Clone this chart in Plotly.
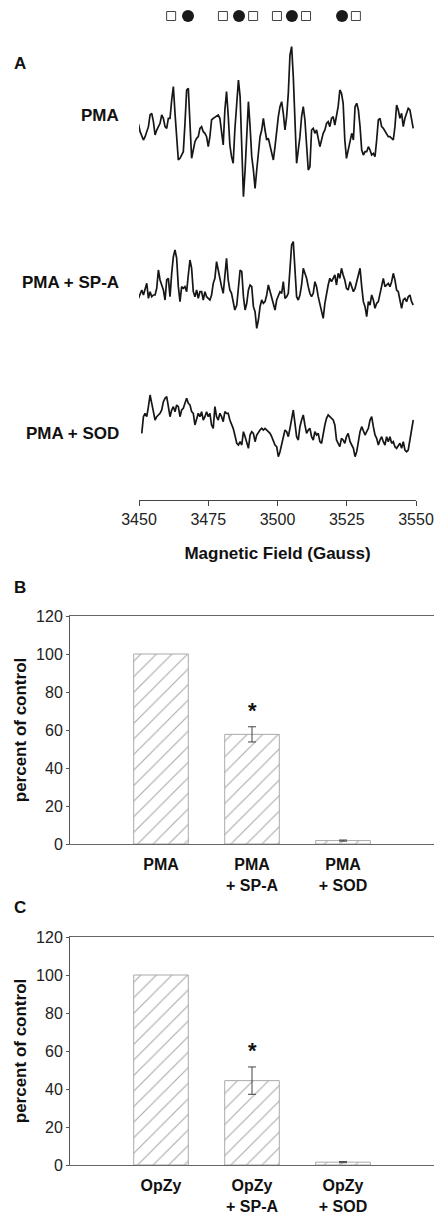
import plotly.graph_objects as go

# ---------------- Panel A: EPR spectra (field in Gauss, intensity in a.u.) ----------------
field_gauss = [
    3449.2, 3449.8, 3450.4, 3451.0, 3451.6, 3452.2, 3452.8, 3453.4, 3454.0, 3454.6,
    3455.2, 3455.8, 3456.4, 3457.0, 3457.6, 3458.2, 3458.8, 3459.4, 3460.0, 3460.6,
    3461.2, 3461.8, 3462.4, 3463.0, 3463.6, 3464.2, 3464.8, 3465.4, 3466.0, 3466.6,
    3467.2, 3467.8, 3468.4, 3469.0, 3469.6, 3470.2, 3470.8, 3471.4, 3472.0, 3472.6,
    3473.2, 3473.8, 3474.4, 3475.0, 3475.6, 3476.2, 3476.8, 3477.4, 3478.0, 3478.6,
    3479.2, 3479.8, 3480.4, 3481.0, 3481.6, 3482.2, 3482.8, 3483.4, 3484.0, 3484.6,
    3485.3, 3485.9, 3486.5, 3487.1, 3487.7, 3488.3, 3488.9, 3489.5, 3490.1, 3490.7,
    3491.3, 3491.9, 3492.5, 3493.1, 3493.7, 3494.3, 3494.9, 3495.5, 3496.1, 3496.7,
    3497.3, 3497.9, 3498.5, 3499.1, 3499.7, 3500.3, 3500.9, 3501.5, 3502.1, 3502.7,
    3503.3, 3503.9, 3504.5, 3505.1, 3505.7, 3506.3, 3506.9, 3507.5, 3508.1, 3508.7,
    3509.3, 3509.9, 3510.5, 3511.1, 3511.7, 3512.3, 3512.9, 3513.5, 3514.1, 3514.7,
    3515.3, 3515.9, 3516.5, 3517.1, 3517.7, 3518.3, 3518.9, 3519.5, 3520.1, 3520.7,
    3521.3, 3521.9, 3522.5, 3523.1, 3523.7, 3524.3, 3524.9, 3525.5, 3526.2, 3526.8,
    3527.4, 3528.0, 3528.6, 3529.2, 3529.8, 3530.4, 3531.0, 3531.6, 3532.2, 3532.8,
    3533.4, 3534.0, 3534.6, 3535.2, 3535.8, 3536.4, 3537.0, 3537.6, 3538.2, 3538.8,
    3539.4, 3540.0, 3540.6, 3541.2, 3541.8, 3542.4, 3543.0, 3543.6, 3544.2, 3544.8,
    3545.4, 3546.0, 3546.6, 3547.2, 3547.8, 3548.4, 3549.0]

pma_signal = [
    5, 18, -5, -20, -30, -20, -5, 10, 45, 50,
    25, -15, 0, 10, 20, 45, 35, 10, 5, 35,
    35, 90, 130, 50, -30, -90, -85, -75, -65, 20,
    120, 125, 20, -85, -60, -35, -25, -20, 5, 10,
    -5, -10, -20, -50, -20, 30, 35, 38, 42, 45,
    35, 0, -45, 60, 115, 45, -45, -80, -100, 0,
    70, 150, 100, -50, -200, -120, 10, 85, 10, -80,
    -120, -175, -120, -60, -20, 0, 35, 0, -30, -25,
    -45, -70, -90, -50, 0, 40, 70, 85, 50, 0,
    40, 110, 225, 250, 160, 0, -100, -60, -20, 40,
    70, 30, -40, -120, -110, 0, 5, -10, 0, -30,
    -50, -30, -10, 0, 20, 25, 10, 35, 40, 15,
    40, 70, 120, 110, 80, -30, -85, -60, -30, -10,
    -30, 70, 80, 60, 10, -60, -75, -65, -65, -50,
    -60, -75, -70, -80, -30, 30, 35, 10, 5, -5,
    -10, -20, -20, -25, -30, 10, 75, 60, 35, 50,
    10, 35, 50, 65, 60, 30, 5]

pma_spa_signal = [
    None, -5, 10, 20, 5, 25, 40, -5, 15, 0,
    5, 5, 25, 80, 50, 35, 20, -10, 50, 55,
    0, 70, 120, 140, 115, 30, -15, 30, 25, 30,
    15, 65, 110, 85, 15, 0, 20, -5, 15, 15,
    -10, 15, 0, -5, -10, 5, 40, 55, 105, 80,
    50, 30, 10, 70, 115, 50, 20, 10, -20, -40,
    -25, 30, 80, 75, 0, -40, -20, 20, 35, 30,
    -30, -45, -95, -70, -30, -10, -20, -15, 5, 35,
    15, 0, -20, -40, -10, 5, 15, 10, 45, -5,
    0, 10, 90, 155, 165, 90, 0, -10, 5, 35,
    85, 70, 55, 30, 10, 0, 10, 45, 30, 0,
    -25, -40, -65, -20, 10, 35, 55, 45, 55, 65,
    35, 70, 55, 85, 65, 50, 25, 20, 45, 30,
    15, 25, 45, 70, 85, 30, -15, -30, -60, -15,
    -25, 5, -10, -35, -20, -15, 10, 35, 55, 30,
    35, 40, 30, 45, 70, 50, 20, 15, -10, -35,
    -10, -5, -15, 0, 5, -15, -25]

pma_sod_signal = [
    None, None, None, -10, 40, 50, 40, 70, 105, 80,
    55, 30, 40, 45, 50, 60, 85, 95, 100, 70,
    40, 60, 70, 55, 75, 70, 40, 60, 65, 80,
    95, 80, 75, 55, 50, 15, 30, 50, 40, 55,
    30, 40, 55, 40, 50, 15, 5, 70, 40, 30,
    50, 40, 25, 55, 50, 50, 30, 20, 5, -15,
    -40, -45, -35, -45, -5, -20, -35, -55, -15, -5,
    -10, -35, -15, -5, 0, 5, 0, 5, 0, -5,
    -10, -20, -35, -45, -50, -80, -65, -45, -20, 0,
    -5, -20, 5, 30, 60, 20, -20, -30, 10, 30,
    45, 15, -10, 0, 5, -20, -30, -5, -15, -10,
    -35, -40, -10, 15, 35, 45, 40, 35, 30, 15,
    -30, -40, -50, -25, -30, -40, -20, -10, -35, -45,
    -55, -80, -65, -35, -5, 10, 0, -15, -5, 5,
    30, 40, 10, -15, -25, -45, -30, -20, -35, -45,
    -20, -35, -20, -40, -35, -50, -55, -45, -40, -55,
    -35, -60, -65, -60, -30, -10, 30]

sample_labels = ["PMA", "PMA + SP-A", "PMA + SOD"]

# hyperfine line markers above the spectra (Gauss)
hf_open_squares = [3461.6, 3480.3, 3491.2, 3499.8, 3510.3, 3528.3]
hf_filled_circles = [3467.7, 3486.1, 3505.2, 3523.3]

field_ticks = [3450, 3475, 3500, 3525, 3550]

# ---------------- Panels B and C: bar charts ----------------
pma_cats = ["PMA", "PMA<br>+ SP-A", "PMA<br>+ SOD"]
pma_vals = [100, 57.7, 1.8]
pma_errs = [0, 4.0, 0.3]

opzy_cats = ["OpZy", "OpZy<br>+ SP-A", "OpZy<br>+ SOD"]
opzy_vals = [100, 44.4, 1.5]
opzy_errs = [0, 7.2, 0.3]

pct_ticks = [0, 20, 40, 60, 80, 100, 120]

W, H = 434, 1216
FONT = "Liberation Sans, Arial, Helvetica, sans-serif"


def py(px):
    return 1 - px / H


def px_x(px):
    return px / W


fig = go.Figure()

trace_color = "#161616"
for sig, ya in [(pma_signal, "y"), (pma_spa_signal, "y2"), (pma_sod_signal, "y3")]:
    fig.add_trace(go.Scatter(x=field_gauss, y=sig, mode="lines", xaxis="x", yaxis=ya,
                             line=dict(color=trace_color, width=1.7), connectgaps=False,
                             hoverinfo="skip"))

fig.add_trace(go.Scatter(x=hf_open_squares, y=[0] * len(hf_open_squares), mode="markers",
                         xaxis="x", yaxis="y4",
                         marker=dict(symbol="square-open", size=9, color="#444",
                                     line=dict(width=1, color="#444"))))
fig.add_trace(go.Scatter(x=hf_filled_circles, y=[0] * len(hf_filled_circles), mode="markers",
                         xaxis="x", yaxis="y4",
                         marker=dict(symbol="circle", size=12, color="#1a1a1a")))

bar_pattern = dict(shape="/", fgcolor="#555", bgcolor="white", size=11, solidity=0.1)
for cats, vals, errs, xa, ya in [(pma_cats, pma_vals, pma_errs, "x2", "y5"),
                                 (opzy_cats, opzy_vals, opzy_errs, "x3", "y6")]:
    fig.add_trace(go.Bar(x=cats, y=vals, xaxis=xa, yaxis=ya, width=0.6,
                         marker=dict(color="white", pattern=bar_pattern,
                                     line=dict(color="#aaa", width=1)),
                         hoverinfo="skip"))
    # error bars only where an SEM is reported (non-zero)
    ex = [c for c, e in zip(cats, errs) if e]
    ey = [v for v, e in zip(vals, errs) if e]
    ee = [e for e in errs if e]
    fig.add_trace(go.Scatter(x=ex, y=ey, xaxis=xa, yaxis=ya, mode="markers",
                             marker=dict(size=1, color="rgba(0,0,0,0)"),
                             error_y=dict(type="data", array=ee, visible=True,
                                          color="#444", thickness=1, width=4),
                             hoverinfo="skip"))

tickfont = dict(family=FONT, size=16, color="#222")
boldfont = dict(family=FONT, size=17, color="#111", weight="bold")
catfont = dict(family=FONT, size=16, color="#111", weight="bold")

layout = dict(
    width=W, height=H, margin=dict(l=0, r=0, t=0, b=0, autoexpand=False),
    paper_bgcolor="white", plot_bgcolor="white", showlegend=False,
    font=dict(family=FONT, color="#222"),
    xaxis=dict(domain=[px_x(139), px_x(416)], range=[3450, 3550], anchor="free",
               position=py(500), tickvals=field_ticks, showline=True, linecolor="#444",
               linewidth=1, ticks="outside", ticklen=5, tickcolor="#444", showgrid=False,
               zeroline=False, tickfont=tickfont, automargin=False,
               title=dict(text="Magnetic Field (Gauss)", font=boldfont, standoff=19)),
    yaxis=dict(domain=[py(210), py(30)], range=[-240, 300], visible=False, anchor="x"),
    yaxis2=dict(domain=[py(342), py(222)], range=[-136, 224], visible=False, anchor="x"),
    yaxis3=dict(domain=[py(480), py(372)], range=[-150, 174], visible=False, anchor="x"),
    yaxis4=dict(domain=[py(26), py(6)], range=[-1, 1], visible=False, anchor="x"),
)

for xa, ya, cats, top, bot in [("xaxis2", "yaxis5", pma_cats, 616, 844),
                               ("xaxis3", "yaxis6", opzy_cats, 937, 1165)]:
    layout[xa] = dict(domain=[px_x(70), 1.0], type="category", categoryarray=cats,
                      range=[-1, 3], anchor=ya.replace("axis", ""), showline=True,
                      linecolor="#666", linewidth=1, mirror=True, ticks="",
                      ticklabelstandoff=6, showgrid=False, zeroline=False,
                      tickfont=catfont, automargin=False)
    layout[ya] = dict(domain=[py(bot), py(top)], range=[0, 120], tickvals=pct_ticks,
                      anchor=xa.replace("axis", ""), showline=True, linecolor="#555",
                      linewidth=1, ticks="outside", ticklen=3, tickcolor="#555",
                      showgrid=False, zeroline=False, tickfont=tickfont, automargin=False,
                      title=dict(text="percent of control", font=boldfont, standoff=5))

fig.update_layout(**layout)

annots = []
for lab, ypx in [("A", 63), ("B", 587), ("C", 907)]:
    annots.append(dict(text=lab, xref="paper", yref="paper", x=px_x(12), y=py(ypx),
                       xanchor="left", yanchor="middle", showarrow=False,
                       font=dict(family=FONT, size=17, color="#111", weight="bold")))
for lab, ypx in zip(sample_labels, [115, 282, 434]):
    annots.append(dict(text=lab, xref="paper", yref="paper", x=px_x(121), y=py(ypx),
                       xanchor="right", yanchor="middle", showarrow=False, font=boldfont))
for cats, vals, errs, xa, ya in [(pma_cats, pma_vals, pma_errs, "x2", "y5"),
                                 (opzy_cats, opzy_vals, opzy_errs, "x3", "y6")]:
    annots.append(dict(text="*", xref=xa, yref=ya, x=cats[1], y=vals[1] + errs[1],
                       xanchor="center", yanchor="bottom", yshift=2, showarrow=False,
                       font=dict(family=FONT, size=22, color="#111", weight="bold")))
fig.update_layout(annotations=annots)

fig.write_html("out.html")
